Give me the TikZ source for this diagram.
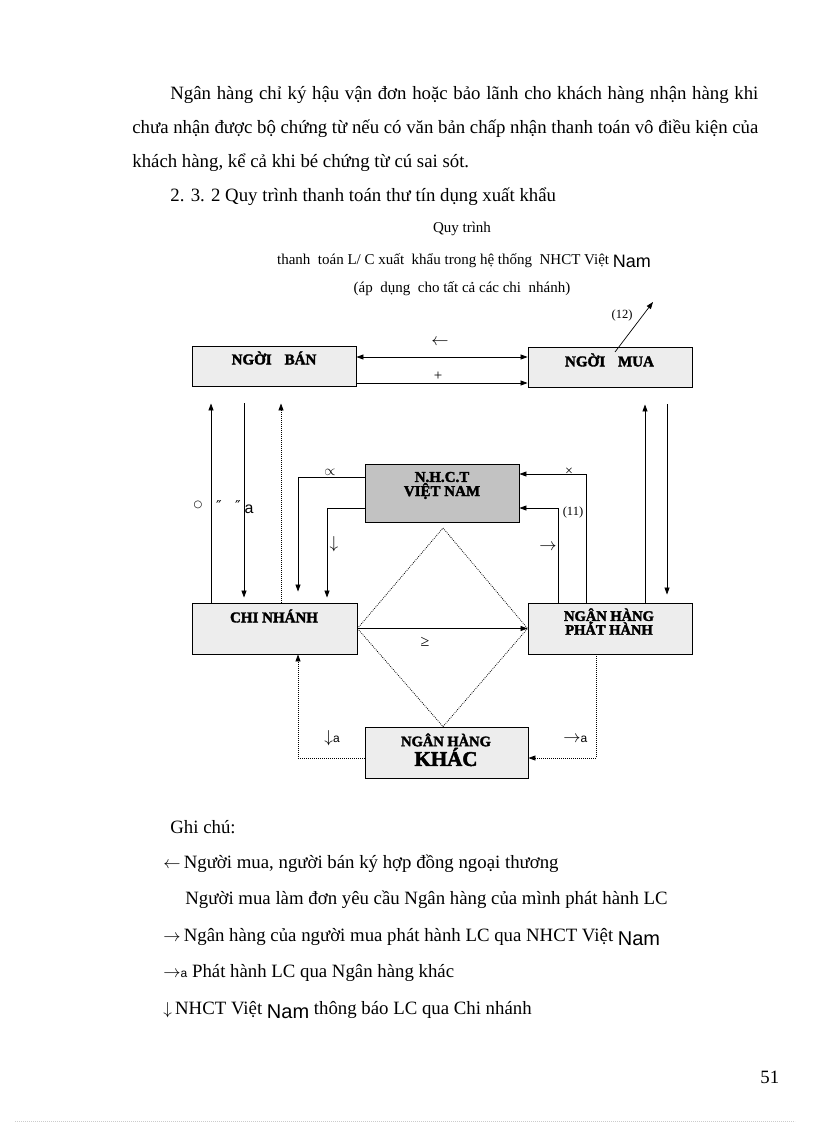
\documentclass[tikz,border=0pt]{standalone}
\usepackage{fontspec}
\setmainfont{Liberation Serif}
\newfontfamily\sansf{Liberation Sans}
\newfontfamily\symf{DejaVu Serif}
\newfontfamily\boxf[FakeBold=2.2]{Liberation Serif Bold}
\usetikzlibrary{arrows.meta}
\definecolor{boxgray}{HTML}{EDEDED}
\definecolor{nhctgray}{HTML}{C2C2C2}
\newcommand{\setfs}[1]{\fontsize{#1}{#1}\selectfont}
\newcommand{\arr}[2][17]{{\setfs{#1}$#2$}}
\begin{document}
\begin{tikzpicture}[x=1pt,y=-1pt,line width=0.8pt,>={Triangle[length=7pt,width=5pt]},
  bx/.style={draw=black,fill=boxgray,inner sep=0pt,line width=0.9pt},
  lbl/.style={inner sep=0pt,font=\boxf\setfs{15}},
  txt/.style={anchor=base west,inner sep=0pt,font=\setfs{18.8}},
  ttl/.style={anchor=base,inner sep=0pt,font=\setfs{15}},
  sm/.style={inner sep=0pt,font=\setfs{13}},
  dots/.style={dash pattern=on 0.8pt off 1.2pt}]
\path[use as bounding box,fill=white] (0,0) rectangle (816,1123);

% ---- text above ----
\node[txt] (p1) at (170,99.5) {\makebox[588pt][s]{Ngân hàng chỉ ký hậu vận đơn hoặc bảo lãnh cho khách hàng nhận hàng khi}};
\node[txt] (p2) at (132,133.5) {\makebox[626pt][s]{chưa nhận được bộ chứng từ nếu có văn bản chấp nhận thanh toán vô điều kiện của}};
\node[txt] (p3) at (132,167.5) {khách hàng, kể cả khi bé chứng từ cú sai sót.};
\node[txt] (p4) at (170,201.5) {2. 3. 2 Quy trình thanh toán thư tín dụng xuất khẩu};

\node[ttl] (t1) at (462,233) {Quy trình};
\node[ttl] (t2) at (464,264) {thanh\ \ toán L/ C xuất\ \ khẩu trong\ hệ\ thống\ \ NHCT Việt {\sansf\setfs{18}\raisebox{-3pt}{Nam}}};
\node[ttl] (t3) at (462,292) {(áp\ \ dụng\ \ cho tất cả các chi\ \ nhánh)};

% ---- boxes ----
\node[bx,minimum width=164pt,minimum height=40pt] (seller) at (274,366) {};
\node[bx,minimum width=164pt,minimum height=40pt] (buyer) at (610,367) {};
\node[bx,fill=nhctgray,minimum width=154pt,minimum height=58pt] (nhct) at (442,493) {};
\node[bx,minimum width=165pt,minimum height=51pt] (cn) at (274.5,628.5) {};
\node[bx,minimum width=164pt,minimum height=51pt] (bank) at (610,628.5) {};
\node[bx,minimum width=163pt,minimum height=51pt] (khac) at (446.5,752.5) {};

\node[lbl] (sellerT) at (274,358) {NGỜI\hspace{13pt}BÁN};
\node[lbl] (buyerT) at (609.5,360) {NGỜI\hspace{13pt}MUA};
\node[lbl] (nhctT1) at (442,477) {N.H.C.T};
\node[lbl] (nhctT2) at (442,491) {VIỆT NAM};
\node[lbl] (cnT) at (274,616) {CHI NHÁNH};
\node[lbl,font=\boxf\setfs{14.5}] (bankT1) at (609,616) {NGẬN HÀNG};
\node[lbl,font=\boxf\setfs{14.5}] (bankT2) at (609,628.5) {PHÁT HÀNH};
\node[lbl,font=\boxf\setfs{14.5}] (khacT1) at (446,740) {NGÂN HÀNG};
\node[lbl,font=\boxf\setfs{21}] (khacT2) at (446,757) {KHÁC};

% ---- seller <-> buyer ----
\draw[<->] ([yshift=9pt]seller.east) -- ([yshift=10pt]buyer.west);
\draw[->] ([yshift=-17pt]seller.east) -- ([yshift=-16pt]buyer.west);
\node[sm] (l1) at (440,342) {\arr[18]{\leftarrow}};
\node[sm,font=\setfs{15}] (l2) at (438,376) {+};

% ---- left verticals ----
\draw[->] ([xshift=-63.5pt]cn.north) -- ([xshift=-63pt,yshift=-17pt]seller.south);
\draw[->] ([xshift=-30pt,yshift=-17pt]seller.south) -- ([xshift=-30.5pt,yshift=5pt]cn.north);
\draw[->,dots] ([xshift=6.5pt]cn.north) -- ([xshift=7pt,yshift=-17pt]seller.south);
\node[sm,font=\symf\setfs{10}] (l3) at (198,505) {○};
\node[sm,font=\symf\setfs{15}] (l4) at (219,506) {″};
\node[sm,font=\symf\setfs{15}] (l5) at (238,506) {″};
\node[sm,font=\sansf\setfs{16}] (l6) at (249,509) {a};

% ---- right verticals ----
\draw[->] ([xshift=35pt]bank.north) -- ([xshift=35pt,yshift=-17pt]buyer.south);
\draw[->] ([xshift=57pt,yshift=-17pt]buyer.south) -- ([xshift=57pt,yshift=8pt]bank.north);

% ---- NHCT left ----
\draw[->] ([yshift=16pt]nhct.west) -| ([xshift=23.5pt,yshift=11pt]cn.north);
\draw[->] ([yshift=-15pt]nhct.west) -| ([xshift=52.5pt,yshift=5pt]cn.north);
\node[sm] (l7) at (330,472) {\arr[15]{\propto}};
\node[sm] (l8) at (334,544) {\arr[16]{\downarrow}};

% ---- NHCT right ----
\draw[->] ([xshift=-24pt]bank.north) |- ([yshift=19pt]nhct.east);
\draw[->] ([xshift=-52pt]bank.north) |- ([yshift=-15pt]nhct.east);
\node[sm,font=\setfs{14}] (l9) at (569,472) {×};
\node[sm,font=\setfs{12.5}] (l10) at (573,512) {(11)};
\node[sm] (l11) at (548,547) {\arr[16]{\rightarrow}};

% ---- diamond ----
\coordinate (dtop) at (443,528);
\draw[dots] (cn.east) -- (dtop) -- (bank.west) -- ([xshift=-3.5pt]khac.north) -- cycle;
\draw[->] (cn.east) -- (bank.west);
\node[sm,font=\setfs{16}] (l12) at (425,642) {≥};

% ---- bottom dotted ----
\draw[->,dots] ([xshift=-14pt]bank.south) |- ([yshift=-5.5pt]khac.east);
\draw[->,dots] ([yshift=-5.5pt]khac.west) -| ([xshift=23.5pt]cn.south);
\node[sm,anchor=base west] (l13) at (324,742) {\arr[16]{\downarrow}{\sansf\setfs{12}a}};
\node[sm,anchor=base west] (l14) at (563,742) {\arr[16]{\rightarrow}{\sansf\setfs{12}a}};

% ---- (12) ----
\coordinate (c12) at (653,302);
\draw[->,line width=0.7pt] ([xshift=5pt,yshift=15pt]buyer.center) -- (c12);
\node[sm,font=\setfs{12.5}] (l15) at (622,315) {(12)};

% ---- legend ----
\node[txt] (g0) at (170,833) {Ghi chú:};
\node[txt] (g1) at (163,868) {\arr[19]{\leftarrow}\,Người mua, người bán ký hợp đồng ngoại thương};
\node[txt] (g2) at (185,904) {Người mua làm đơn yêu cầu Ngân hàng của mình phát hành LC};
\node[txt] (g3) at (163,941) {\arr[19]{\rightarrow}\,Ngân hàng của người mua phát hành LC qua NHCT Việt {\sansf\setfs{20}\raisebox{-4pt}{Nam}}};
\node[txt] (g4) at (163,977) {\arr[19]{\rightarrow}{\sansf\setfs{12}a} Phát hành LC qua Ngân hàng khác};
\node[txt] (g5) at (163,1014) {\arr[19]{\downarrow}\,NHCT Việt {\sansf\setfs{20}\raisebox{-4pt}{Nam}} thông báo LC qua Chi nhánh};

\node[txt] (pg) at (760,1083) {51};
\coordinate (bl) at (15,1121);
\coordinate (br) at (795,1121);
\draw[gray!40,line width=0.6pt,dots] (bl) -- (br);
\end{tikzpicture}
\end{document}
